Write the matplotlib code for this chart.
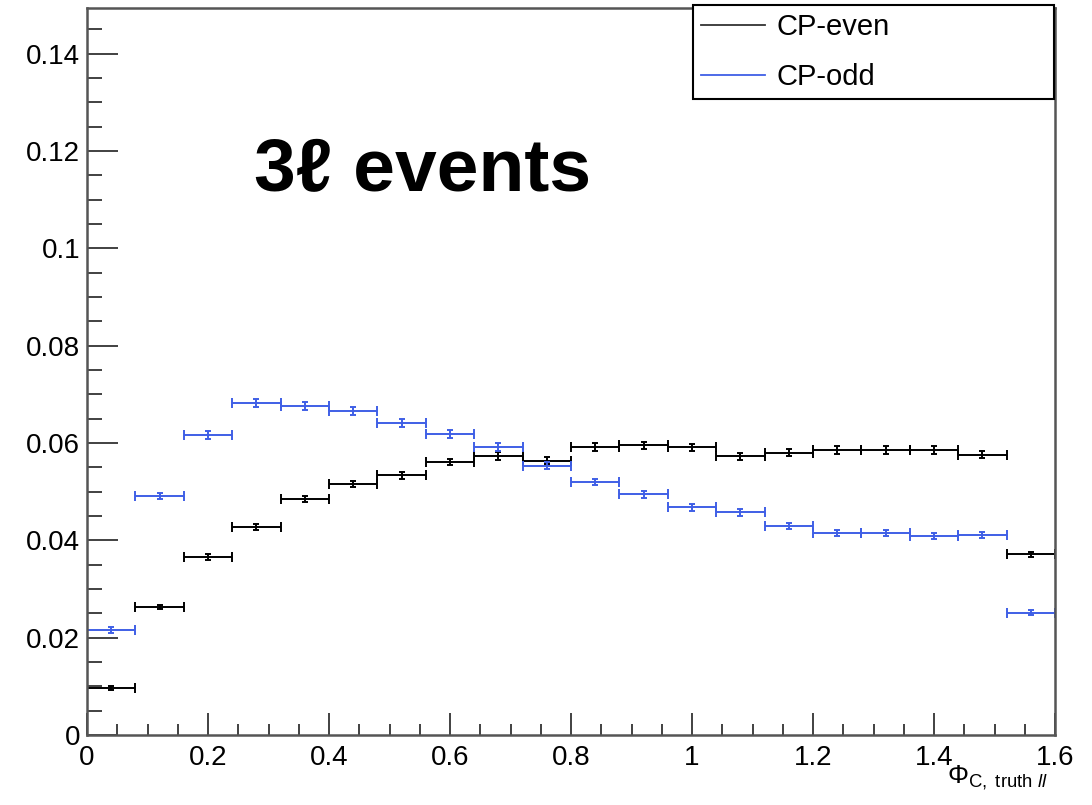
# cp_histos.py
# Truth-level Phi_C distribution for CP-even / CP-odd, 3l events.

import matplotlib
matplotlib.use("Agg")
import matplotlib.pyplot as plt
from matplotlib.lines import Line2D
from matplotlib.ticker import MultipleLocator, FormatStrFormatter

plt.rcParams['font.family'] = ['Liberation Sans', 'DejaVu Sans']
plt.rcParams['mathtext.fontset'] = 'custom'
plt.rcParams['mathtext.rm'] = 'Liberation Sans'
plt.rcParams['mathtext.it'] = 'Liberation Sans:italic'
plt.rcParams['mathtext.bf'] = 'Liberation Sans:bold'

# 20 bins, 0 -> 1.6
bin_edges = [0.00, 0.08, 0.16, 0.24, 0.32, 0.40, 0.48, 0.56, 0.64, 0.72, 0.80,
             0.88, 0.96, 1.04, 1.12, 1.20, 1.28, 1.36, 1.44, 1.52, 1.60]

cp_even = [0.0097, 0.0263, 0.0366, 0.0428, 0.0485, 0.0516, 0.0534, 0.0561, 0.0573, 0.0564,
           0.0592, 0.0595, 0.0591, 0.0573, 0.0580, 0.0586, 0.0586, 0.0586, 0.0576, 0.0371]
cp_even_err = [0.0004, 0.0005, 0.0006, 0.0006, 0.0007, 0.0007, 0.0007, 0.0007, 0.0008, 0.0008,
               0.0008, 0.0008, 0.0008, 0.0007, 0.0007, 0.0008, 0.0008, 0.0008, 0.0007, 0.0006]

cp_odd = [0.0216, 0.0491, 0.0617, 0.0682, 0.0676, 0.0666, 0.0641, 0.0619, 0.0592, 0.0553,
          0.0520, 0.0495, 0.0468, 0.0458, 0.0430, 0.0415, 0.0415, 0.0409, 0.0411, 0.0251]
cp_odd_err = [0.0006, 0.0007, 0.0008, 0.0008, 0.0008, 0.0008, 0.0008, 0.0008, 0.0008, 0.0007,
              0.0007, 0.0007, 0.0007, 0.0007, 0.0006, 0.0006, 0.0006, 0.0006, 0.0006, 0.0005]

BLUE = '#3f5fe6'


def draw_histo(ax, values, errors, color):
    """Draws a ROOT-like E1 histogram: bin-width bars plus vertical errors."""
    centers = [(a + b) / 2 for a, b in zip(bin_edges[:-1], bin_edges[1:])]
    half = [(b - a) / 2 for a, b in zip(bin_edges[:-1], bin_edges[1:])]
    ax.errorbar(centers, values, xerr=half, fmt='none', ecolor=color,
                elinewidth=1.4, capsize=3.5, capthick=1.4)
    ax.errorbar(centers, values, yerr=errors, fmt='none', ecolor=color,
                elinewidth=1.4, capsize=2.4, capthick=1.4)


def main():
    fig = plt.figure(figsize=(10.92, 8.05), dpi=100)
    ax = fig.add_axes([87 / 1092, 1 - 735 / 805, (1055 - 87) / 1092, (735 - 8) / 805])

    draw_histo(ax, cp_even, cp_even_err, 'black')
    draw_histo(ax, cp_odd, cp_odd_err, BLUE)

    ax.set_xlim(0, 1.6)
    ax.set_ylim(0, 0.1494)

    ax.xaxis.set_major_locator(MultipleLocator(0.2))
    ax.xaxis.set_minor_locator(MultipleLocator(0.05))
    ax.yaxis.set_major_locator(MultipleLocator(0.02))
    ax.yaxis.set_minor_locator(MultipleLocator(0.005))
    ax.xaxis.set_major_formatter(FormatStrFormatter('%g'))
    ax.yaxis.set_major_formatter(FormatStrFormatter('%g'))

    ax.tick_params(axis='both', which='both', direction='in', top=False, right=False,
                   labelsize=20, color='#333333')
    ax.tick_params(axis='x', which='major', length=16, width=1.3, pad=7)
    ax.tick_params(axis='x', which='minor', length=8, width=1.3)
    ax.tick_params(axis='y', which='major', length=22, width=1.3, pad=5)
    ax.tick_params(axis='y', which='minor', length=11, width=1.3)
    for spine in ax.spines.values():
        spine.set_color('#555555')
        spine.set_linewidth(1.8)

    ax.text(0.554, 0.1157, '3\u2113 events', fontsize=54, fontweight='bold',
            ha='center', va='center')

    fig.text(1048 / 1092, 1 - 778 / 805, r'$\Phi_{\mathrm{C,\ truth}\ \mathit{ll}}$',
             fontsize=19, ha='right', va='center')

    handles = [Line2D([], [], color='#333333', lw=1.3),
               Line2D([], [], color=BLUE, lw=1.3)]
    leg = ax.legend(handles, ['CP-even', 'CP-odd'], fontsize=21, loc='upper left',
                    bbox_to_anchor=(693 / 1092, 1 - 5 / 805, (1054 - 693) / 1092, 0.0),
                    bbox_transform=fig.transFigure, mode='expand', fancybox=False,
                    framealpha=1, edgecolor='black', handlelength=2.2,
                    handletextpad=0.4, labelspacing=0.75, borderpad=0.28,
                    borderaxespad=0)
    leg.get_frame().set_linewidth(1.5)

    fig.savefig('out.png', dpi=100)


if __name__ == "__main__":
    main()
